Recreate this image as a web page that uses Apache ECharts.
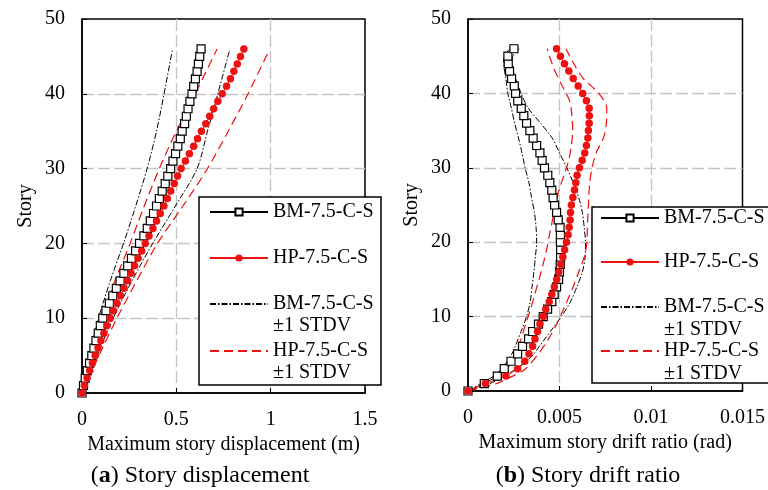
<!DOCTYPE html>
<html><head><meta charset="utf-8">
<script src="https://cdn.jsdelivr.net/npm/echarts@6/dist/echarts.min.js"></script>
<style>html,body{margin:0;padding:0;background:#fff}#c{width:768px;height:490px}</style>
</head><body><div id="c"></div>
<script>
// ---------------- data ----------------
const stories = [0,1,2,3,4,5,6,7,8,9,10,11,12,13,14,15,16,17,18,19,20,21,22,23,24,25,26,27,28,29,30,31,32,33,34,35,36,37,38,39,40,41,42,43,44,45,46];

// (a) maximum story displacement (m)
const dispBM = [0,0.008,0.017,0.028,0.04,0.052,0.063,0.074,0.086,0.097,0.11,0.127,0.145,0.163,0.182,0.202,0.222,0.242,0.262,0.284,0.305,0.328,0.346,0.362,0.379,0.395,0.41,0.425,0.441,0.455,0.47,0.482,0.496,0.508,0.521,0.531,0.544,0.553,0.562,0.572,0.583,0.592,0.601,0.61,0.617,0.624,0.631];
const dispHP = [0,0.013,0.027,0.041,0.055,0.07,0.085,0.1,0.116,0.132,0.149,0.167,0.185,0.204,0.223,0.242,0.26,0.278,0.297,0.316,0.335,0.355,0.376,0.395,0.415,0.434,0.452,0.47,0.489,0.507,0.525,0.548,0.569,0.592,0.612,0.633,0.656,0.677,0.698,0.72,0.743,0.766,0.787,0.805,0.823,0.84,0.858];
const stdStoriesL = [0,5,10,15,20,25,30,35,40,46];
const dispBMlo = [0,0.04,0.088,0.15,0.22,0.285,0.345,0.395,0.435,0.48];
const dispBMhi = [0,0.08,0.165,0.265,0.375,0.495,0.61,0.665,0.72,0.784];
const dispHPlo = [0,0.05,0.105,0.175,0.255,0.33,0.41,0.5,0.6,0.716];
const dispHPhi = [0,0.09,0.185,0.29,0.4,0.535,0.665,0.775,0.88,0.995];

// (b) maximum story drift ratio (values in 1e-3 rad)
const driftBM = [0,0.89,1.6,1.98,2.35,2.71,2.98,3.31,3.53,3.85,4.11,4.35,4.58,4.71,4.84,4.95,5.0,5.04,5.06,5.06,5.05,5.05,5.03,4.93,4.84,4.73,4.65,4.58,4.47,4.36,4.18,4.05,3.93,3.75,3.56,3.38,3.2,3.05,2.91,2.72,2.6,2.53,2.38,2.27,2.2,2.18,2.51];
const driftHP = [0,0.95,2.07,2.71,3.1,3.33,3.53,3.66,3.8,3.93,4.11,4.25,4.44,4.58,4.72,4.85,4.96,5.07,5.18,5.28,5.38,5.47,5.53,5.58,5.6,5.65,5.73,5.82,5.89,5.96,6.09,6.24,6.38,6.47,6.55,6.58,6.62,6.63,6.62,6.47,6.27,6.02,5.75,5.51,5.27,5.05,4.84];
const driftBMloStories = [0,1,2,3,4,5,6,8,10,12,14,16,18,20,22,24,26,28,30,32,34,36,38,40,42,44,45,46];
const driftBMlo = [0,0.7,1.4,1.85,2.15,2.4,2.58,2.9,3.2,3.4,3.5,3.6,3.68,3.75,3.72,3.63,3.47,3.33,3.12,2.95,2.76,2.55,2.37,2.18,2.07,1.95,1.98,2.3];
const driftBMhiStories = [0,1,2,3,4,5,6,7,8,10,12,14,16,18,20,22,24,26,28,30,32,34,36,38,40,42,44,45,46];
const driftBMhi = [0,1.2,2.0,2.65,3.2,3.6,3.9,4.2,4.5,5.1,5.6,5.95,6.25,6.4,6.42,6.35,6.25,6.05,5.75,5.4,5.0,4.6,3.96,3.3,2.9,2.6,2.4,2.45,2.8];
const driftHPloStories = [0,1,2,3,5,7,9,11,13,15,17,19,21,23,25,27,29,31,33,35,37,39,41,43,45,46];
const driftHPlo = [0,0.9,1.65,2.15,2.6,2.9,3.15,3.42,3.65,3.88,4.1,4.3,4.45,4.62,4.8,4.97,5.25,5.5,5.65,5.72,5.68,5.55,5.15,4.75,4.45,4.33];
const driftHPhiStories = [0,1,2,3,5,7,9,10,12,14,16,18,20,22,24,26,28,30,32,34,36,38,40,42,44,46];
const driftHPhi = [0,1.55,2.45,3.15,3.85,4.4,4.85,5.04,5.4,5.75,6.05,6.35,6.5,6.52,6.56,6.6,6.65,6.78,7.0,7.4,7.56,7.58,7.15,6.3,5.78,5.35];

const xTicksL = [0, 0.5, 1, 1.5];
const xTicksR = [0, 0.005, 0.01, 0.015];
const yTicks = [0, 10, 20, 30, 40, 50];

const NAME_BM = 'BM-7.5-C-S', NAME_HP = 'HP-7.5-C-S';
const NAME_BMS = 'BM-7.5-C-S ±1 STDV', NAME_HPS = 'HP-7.5-C-S ±1 STDV';

// ---------------- styling ----------------
const FONT = '"Liberation Serif", "Times New Roman", serif';
const RED = '#ee1111';
const MRAD = 0.001;
function pairs(xs, ys, k) { return xs.map((v, i) => [+(v * k).toPrecision(6), ys[i]]); }

function xAxisOf(grid, ticks, name) {
  return {
    type: 'value', gridIndex: grid, min: ticks[0], max: ticks[ticks.length - 1],
    interval: ticks[1] - ticks[0], name: name, nameLocation: 'middle', nameGap: 42,
    nameTextStyle: { fontFamily: FONT, fontSize: 20, color: '#000' },
    axisLine: { show: true, lineStyle: { color: '#000', width: 1.5 } },
    axisTick: { show: true, inside: true, length: 5, lineStyle: { color: '#000', width: 1 } },
    axisLabel: { fontFamily: FONT, fontSize: 20, color: '#000', margin: 17,
      formatter: v => { const t = ticks.find(t => Math.abs(t - v) < 1e-9); return t === undefined ? '' : String(t); } },
    splitLine: { show: true, showMinLine: false, showMaxLine: false, lineStyle: { color: '#c4c4c4', width: 1.3, type: [12, 4] } }
  };
}
function yAxisOf(grid) {
  return {
    type: 'value', gridIndex: grid, min: yTicks[0], max: yTicks[yTicks.length - 1], interval: yTicks[1] - yTicks[0],
    name: 'Story', nameLocation: 'middle', nameGap: 46,
    nameTextStyle: { fontFamily: FONT, fontSize: 20, color: '#000' },
    axisLine: { show: true, lineStyle: { color: '#000', width: 1.5 } },
    axisTick: { show: true, inside: true, length: 5, lineStyle: { color: '#000', width: 1 } },
    axisLabel: { fontFamily: FONT, fontSize: 20, color: '#000', margin: 17 },
    splitLine: { show: true, showMinLine: false, showMaxLine: false, lineStyle: { color: '#c4c4c4', width: 1.3, type: [12, 4] } }
  };
}
function seriesSet(ax, bm, hp, bmLo, bmLoS, bmHi, bmHiS, hpLo, hpLoS, hpHi, hpHiS, k) {
  const base = { type: 'line', xAxisIndex: ax, yAxisIndex: ax, animation: false, silent: true };
  const bmsStyle = { color: '#000', width: 1, type: [6, 2, 1.5, 2] };
  const hpsStyle = { color: RED, width: 1.2, type: [9, 5] };
  return [
    Object.assign({}, base, { name: NAME_BMS, data: pairs(bmLo, bmLoS, k), symbol: 'none', smooth: 0.3, lineStyle: bmsStyle, itemStyle: { color: '#000' } }),
    Object.assign({}, base, { name: NAME_BMS, data: pairs(bmHi, bmHiS, k), symbol: 'none', smooth: 0.3, lineStyle: bmsStyle, itemStyle: { color: '#000' } }),
    Object.assign({}, base, { name: NAME_HPS, data: pairs(hpLo, hpLoS, k), symbol: 'none', smooth: 0.3, lineStyle: hpsStyle, itemStyle: { color: RED } }),
    Object.assign({}, base, { name: NAME_HPS, data: pairs(hpHi, hpHiS, k), symbol: 'none', smooth: 0.3, lineStyle: hpsStyle, itemStyle: { color: RED } }),
    Object.assign({}, base, { name: NAME_BM, data: pairs(bm, stories, k), symbol: 'rect', symbolSize: 8, showAllSymbol: true,
      itemStyle: { color: '#fff', borderColor: '#000', borderWidth: 1.2 }, lineStyle: { color: '#000', width: 1 } }),
    Object.assign({}, base, { name: NAME_HP, data: pairs(hp, stories, k), symbol: 'circle', symbolSize: 7.5, showAllSymbol: true,
      itemStyle: { color: RED }, lineStyle: { color: RED, width: 1 } })
  ];
}
function legendItem(name, left, iconCenterY, L, multi) {
  const h = multi ? 3 * L : L;
  const item = {
    data: [name], left: left, top: iconCenterY - h / 2, orient: 'vertical', padding: 0,
    itemWidth: 58, itemHeight: 9, itemGap: 0, selectedMode: false, z: 20,
    // two-line entries get an empty first line so the icon lines up with the first text line
    formatter: n => multi ? '\n' + n.replace(' ±', '\n±') : n,
    textStyle: { fontFamily: FONT, fontSize: 20, color: '#000', lineHeight: L }
  };
  if (multi) item.itemStyle = { opacity: 0, borderWidth: 0, color: 'transparent' };
  return item;
}

const option = {
  backgroundColor: '#fff',
  animation: false,
  grid: [
    { left: 82, right: 403, top: 19, bottom: 97, show: true, borderColor: '#000', borderWidth: 1.5, backgroundColor: 'transparent' },
    { left: 468, right: 25, top: 19, bottom: 99, show: true, borderColor: '#000', borderWidth: 1.5, backgroundColor: 'transparent' }
  ],
  xAxis: [xAxisOf(0, xTicksL, 'Maximum story displacement (m)'), xAxisOf(1, xTicksR, 'Maximum story drift ratio (rad)')],
  yAxis: [yAxisOf(0), yAxisOf(1)],
  legend: [
    legendItem(NAME_BM, 209, 212, 22, false),
    legendItem(NAME_HP, 209, 258, 22, false),
    legendItem(NAME_BMS, 209, 304, 22, true),
    legendItem(NAME_HPS, 209, 351, 22, true),
    legendItem(NAME_BM, 600, 218, 23, false),
    legendItem(NAME_HP, 600, 262, 23, false),
    legendItem(NAME_BMS, 600, 307, 23, true),
    legendItem(NAME_HPS, 600, 351, 23, true)
  ],
  graphic: [
    { type: 'rect', z: 15, shape: { x: 199, y: 197, width: 182, height: 188 }, style: { fill: '#fff', stroke: '#000', lineWidth: 1.5 } },
    { type: 'rect', z: 15, shape: { x: 592, y: 207, width: 190, height: 176 }, style: { fill: '#fff', stroke: '#000', lineWidth: 1.5 } },
    { type: 'text', z: 15, x: 200, y: 476, style: { text: '{p|(}{b|a}{p|) Story displacement}', align: 'center', verticalAlign: 'middle',
        rich: { p: { fontFamily: FONT, fontSize: 24, fill: '#000' }, b: { fontFamily: FONT, fontSize: 24, fontWeight: 'bold', fill: '#000' } } } },
    { type: 'text', z: 15, x: 588, y: 476, style: { text: '{p|(}{b|b}{p|) Story drift ratio}', align: 'center', verticalAlign: 'middle',
        rich: { p: { fontFamily: FONT, fontSize: 24, fill: '#000' }, b: { fontFamily: FONT, fontSize: 24, fontWeight: 'bold', fill: '#000' } } } }
  ],
  series: [].concat(
    seriesSet(0, dispBM, dispHP, dispBMlo, stdStoriesL, dispBMhi, stdStoriesL, dispHPlo, stdStoriesL, dispHPhi, stdStoriesL, 1),
    seriesSet(1, driftBM, driftHP, driftBMlo, driftBMloStories, driftBMhi, driftBMhiStories, driftHPlo, driftHPloStories, driftHPhi, driftHPhiStories, MRAD)
  )
};
const chart = echarts.init(document.getElementById('c'), null, { renderer: 'canvas' });
chart.setOption(option);
</script>
</body></html>
